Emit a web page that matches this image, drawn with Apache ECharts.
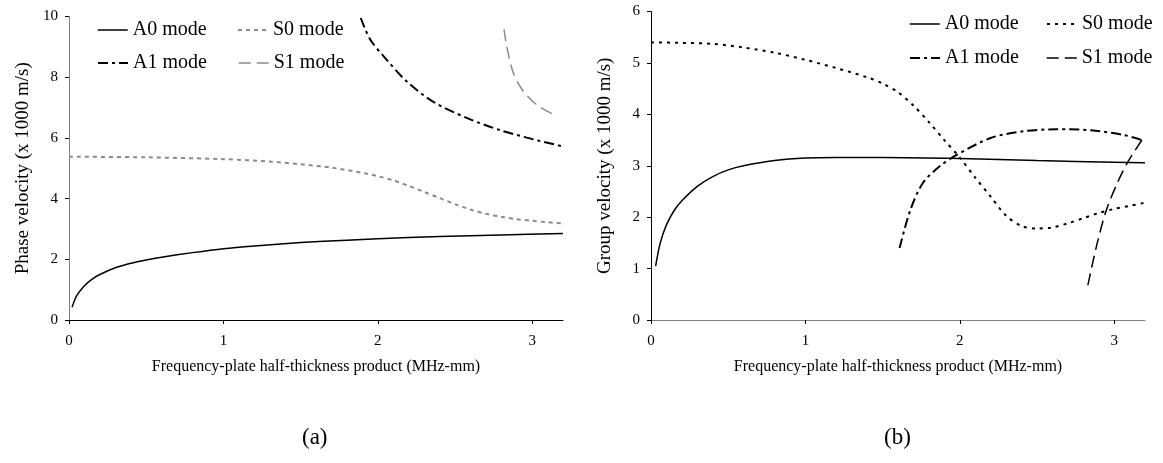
<!DOCTYPE html>
<html>
<head>
<meta charset="utf-8">
<script src="https://cdn.jsdelivr.net/npm/echarts@6/dist/echarts.min.js"></script>
<style>
html,body{margin:0;padding:0;background:#fff;}
#c{width:1163px;height:463px;}
</style>
</head>
<body>
<div id="c"></div>
<script>
// ---- data (frequency-thickness product in MHz-mm, velocity in 1000 m/s) ----
const xTicks = [0, 1, 2, 3];
const legendNames = ['A0 mode', 'S0 mode', 'A1 mode', 'S1 mode'];

// (a) phase velocity
const phaseA0_f = [0.02,0.05,0.1,0.15,0.2,0.3,0.4,0.5,0.6,0.8,1.0,1.2,1.5,1.8,2.0,2.4,2.8,3.2];
const phaseA0_v = [0.42,0.8,1.13,1.35,1.5,1.72,1.87,1.98,2.07,2.22,2.35,2.44,2.55,2.63,2.68,2.75,2.8,2.85];
const phaseS0_f = [0,0.5,1.0,1.3,1.5,1.7,1.9,2.0,2.1,2.2,2.3,2.4,2.5,2.6,2.7,2.8,2.9,3.0,3.1,3.2];
const phaseS0_v = [5.38,5.36,5.3,5.22,5.13,5.02,4.85,4.74,4.6,4.42,4.22,4.02,3.82,3.64,3.5,3.4,3.32,3.27,3.22,3.18];
const phaseA1_f = [1.89,1.95,2.04,2.19,2.36,2.58,2.79,3.01,3.2];
const phaseA1_v = [9.95,9.25,8.68,7.85,7.19,6.65,6.26,5.95,5.72];
const phaseS1_f = [2.818,2.836,2.879,2.94,3.04,3.156];
const phaseS1_v = [9.58,9.0,8.13,7.56,7.05,6.73];

// (b) group velocity
const groupA0_f = [0.03,0.06,0.1,0.15,0.2,0.3,0.4,0.5,0.6,0.8,1.0,1.2,1.5,2.0,2.5,3.0,3.2];
const groupA0_v = [1.05,1.5,1.85,2.13,2.32,2.6,2.79,2.92,3.0,3.1,3.15,3.16,3.16,3.14,3.1,3.07,3.06];
const groupS0_f = [0,0.2,0.4,0.6,0.8,1.0,1.2,1.4,1.5,1.6,1.7,1.8,1.9,2.0,2.1,2.2,2.3,2.4,2.5,2.6,2.7,2.8,2.9,3.0,3.1,3.2];
const groupS0_v = [5.4,5.39,5.37,5.3,5.2,5.06,4.9,4.72,4.6,4.43,4.17,3.85,3.5,3.16,2.77,2.4,2.03,1.83,1.78,1.8,1.88,1.98,2.08,2.16,2.22,2.28];
const groupA1_f = [1.61,1.68,1.76,1.87,1.98,2.2,2.41,2.63,2.85,3.06,3.18];
const groupA1_v = [1.4,2.14,2.66,2.99,3.21,3.54,3.67,3.71,3.69,3.6,3.5];
const groupS1_f = [2.83,2.89,2.95,3.02,3.09,3.18];
const groupS1_v = [0.68,1.49,2.14,2.66,3.08,3.5];

const FONT = 'Liberation Serif';
const zip = (a, b) => a.map((x, i) => [x, b[i]]);

const styles = {
  A0: {color: '#000', width: 1.5, type: 'solid'},
  S0a: {color: '#8a8a8a', width: 2, type: [4, 4]},
  S0b: {color: '#000', width: 2, type: [3, 5]},
  A1: {color: '#000', width: 2, type: [10, 4, 3, 4]},
  S1a: {color: '#8a8a8a', width: 1.5, type: [12, 6]},
  S1b: {color: '#000', width: 1.5, type: [12, 6]}
};

function ser(name, idx, f, v, st) {
  return {
    name: name, type: 'line', xAxisIndex: idx, yAxisIndex: idx,
    data: zip(f, v), showSymbol: false, symbol: 'none',
    smooth: 0.3, silent: true,
    lineStyle: {color: st.color, width: st.width, type: st.type},
    itemStyle: {color: st.color}
  };
}

function leg(name, left, top, st) {
  return {
    left: left, top: top, padding: 0, itemGap: 0,
    itemWidth: 30, itemHeight: 14, selectedMode: false,
    data: [{name: name,
      lineStyle: {color: st.color, width: st.width, type: st.type},
      itemStyle: {color: st.color, opacity: 0, borderWidth: 0}}],
    textStyle: {fontFamily: FONT, fontSize: 20, color: '#000', lineHeight: 20}
  };
}

function xAx(idx, axisColor) {
  return {
    type: 'value', gridIndex: idx, min: 0, max: 3.2, interval: 1,
    name: 'Frequency-plate half-thickness product (MHz-mm)',
    nameLocation: 'middle', nameGap: 39,
    nameTextStyle: {fontFamily: FONT, fontSize: 16, color: '#000'},
    axisLine: {show: true, onZero: false, lineStyle: {color: axisColor, width: 1}},
    axisTick: {show: true, length: 4, inside: false, customValues: xTicks,
      lineStyle: {color: '#000', width: 1}},
    axisLabel: {fontFamily: FONT, fontSize: 15, color: '#000', margin: 14,
      customValues: xTicks},
    splitLine: {show: false}
  };
}

function yAx(idx, max, interval, name, axisColor) {
  return {
    type: 'value', gridIndex: idx, min: 0, max: max, interval: interval,
    name: name, nameLocation: 'middle', nameGap: 36,
    nameTextStyle: {fontFamily: FONT, fontSize: 19, color: '#000'},
    axisLine: {show: true, lineStyle: {color: axisColor, width: 1}},
    axisTick: {show: true, length: 4, inside: false, lineStyle: {color: '#000', width: 1}},
    axisLabel: {fontFamily: FONT, fontSize: 15, color: '#000', margin: 11},
    splitLine: {show: false}
  };
}

const chart = echarts.init(document.getElementById('c'), null, {renderer: 'canvas'});
chart.setOption({
  animation: false,
  backgroundColor: '#fff',
  grid: [
    {left: 69, width: 494, top: 16.5, height: 303.5, containLabel: false},
    {left: 651, width: 494, top: 11.5, height: 308.5, containLabel: false}
  ],
  xAxis: [xAx(0, '#000'), xAx(1, '#808080')],
  yAxis: [
    yAx(0, 10, 2, 'Phase velocity (x 1000 m/s)', '#808080'),
    yAx(1, 6, 1, 'Group velocity (x 1000 m/s)', '#000')
  ],
  legend: [
    leg('A0 mode', 97, 20, styles.A0),
    leg('S0 mode', 237, 20, styles.S0a),
    leg('A1 mode', 97, 53, styles.A1),
    leg('S1 mode', 238, 53, styles.S1a),
    leg('A0 mode', 909, 14, styles.A0),
    leg('S0 mode', 1046, 14, styles.S0b),
    leg('A1 mode', 909, 48, styles.A1),
    leg('S1 mode', 1046, 48, styles.S1b)
  ],
  graphic: [
    {type: 'text', left: 316 - 14, top: 426, style: {text: '(a)', font: '23px "Liberation Serif"', fill: '#000'}},
    {type: 'text', left: 898 - 14, top: 426, style: {text: '(b)', font: '23px "Liberation Serif"', fill: '#000'}}
  ],
  series: [
    ser('A0 mode', 0, phaseA0_f, phaseA0_v, styles.A0),
    ser('S0 mode', 0, phaseS0_f, phaseS0_v, styles.S0a),
    ser('A1 mode', 0, phaseA1_f, phaseA1_v, styles.A1),
    ser('S1 mode', 0, phaseS1_f, phaseS1_v, styles.S1a),
    ser('A0 mode', 1, groupA0_f, groupA0_v, styles.A0),
    ser('S0 mode', 1, groupS0_f, groupS0_v, styles.S0b),
    ser('A1 mode', 1, groupA1_f, groupA1_v, styles.A1),
    ser('S1 mode', 1, groupS1_f, groupS1_v, styles.S1b)
  ]
});
</script>
</body>
</html>
